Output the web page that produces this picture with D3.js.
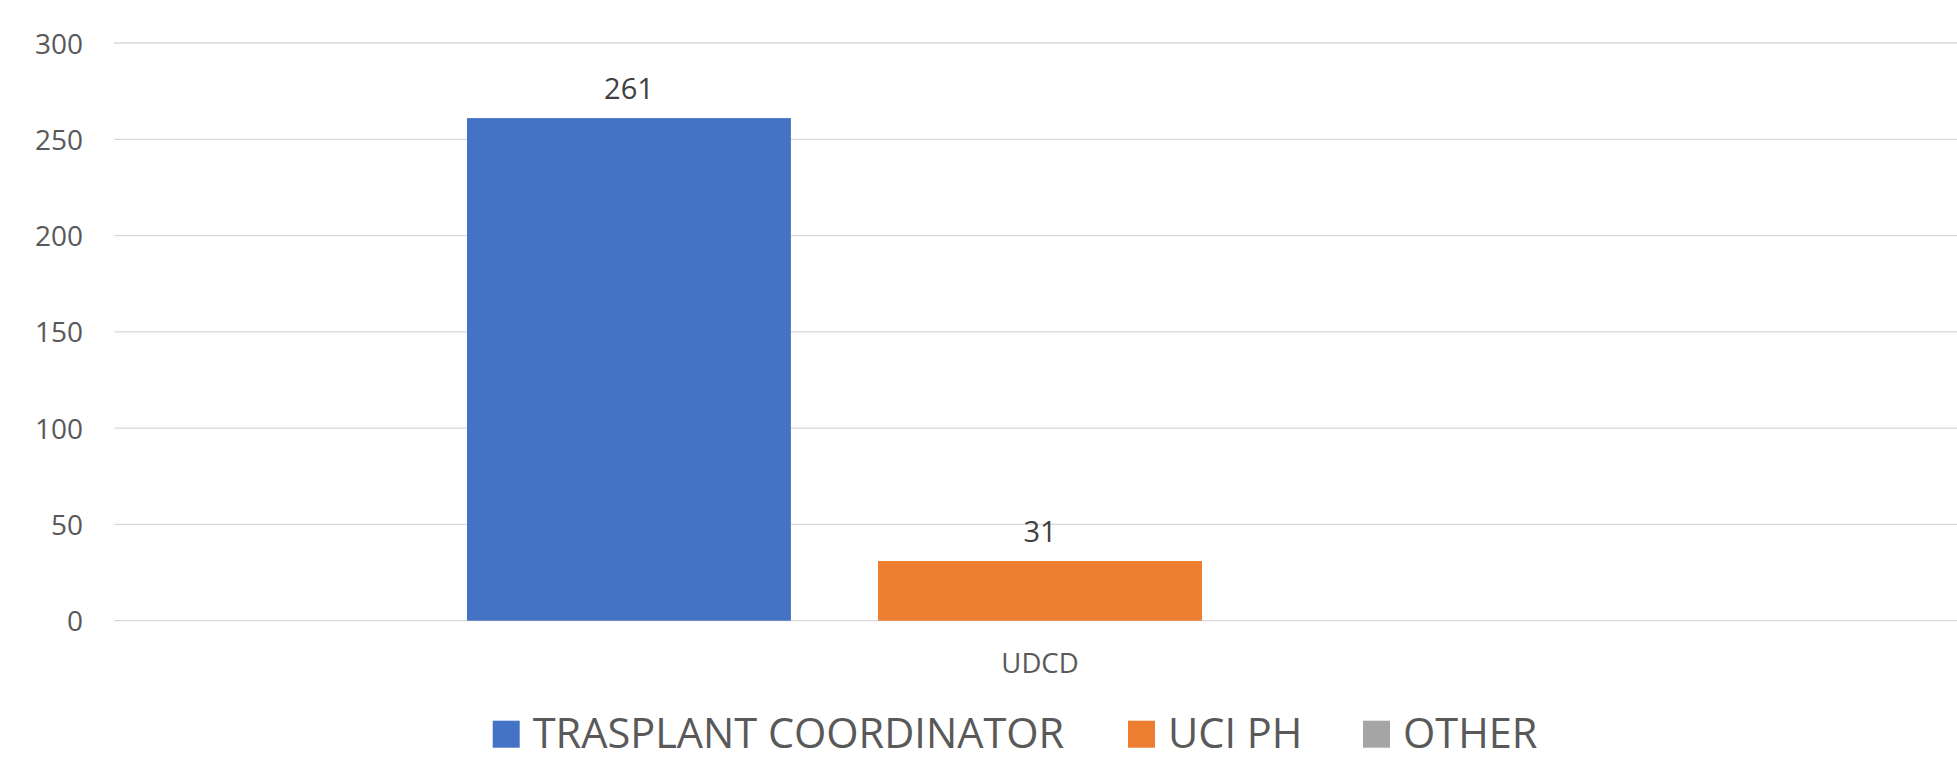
<!DOCTYPE html>
<html>
<head>
<meta charset="utf-8">
<script src="https://cdn.jsdelivr.net/npm/d3@7"></script>
<style>
  html, body { margin: 0; padding: 0; background: #ffffff; }
  svg { display: block; }
  text { font-family: "Open Sans", "Noto Sans", sans-serif; }
</style>
</head>
<body>
<svg id="chart" width="1957" height="774"></svg>
<script>
// ---- data ----
const categories = ["UDCD"];
const seriesNames = ["TRASPLANT COORDINATOR", "UCI PH", "OTHER"];
const seriesColors = ["#4472C4", "#ED7D31", "#A5A5A5"];
const seriesValues = [
  [261],   // TRASPLANT COORDINATOR
  [31],    // UCI PH
  [null]   // OTHER (no value shown)
];
const yTicks = [0, 50, 100, 150, 200, 250, 300];

// ---- layout ----
const W = 1957, H = 774;
const plotLeft = 114, plotRight = 1966, plotTop = 43, plotBottom = 620.7;

const svg = d3.select("#chart");

const y = d3.scaleLinear().domain([0, 300]).range([plotBottom, plotTop]);
const x0 = d3.scaleBand().domain(categories).range([plotLeft, plotRight])
  .paddingInner(0).paddingOuter(0.308);
const x1 = d3.scaleBand().domain(seriesNames).range([0, x0.bandwidth()])
  .paddingInner(0.212).paddingOuter(0);

// gridlines
const grid = svg.append("g").attr("class", "grid");
grid.selectAll("line").data(yTicks).join("line")
  .attr("x1", plotLeft).attr("x2", Math.min(plotRight, W))
  .attr("y1", d => y(d)).attr("y2", d => y(d))
  .attr("stroke", "#d9d9d9").attr("stroke-width", 1.3);

// y axis labels via d3 axis
const yAxis = d3.axisLeft(y).tickValues(yTicks).tickSize(0).tickPadding(0);
const yg = svg.append("g").attr("transform", `translate(83,0)`).call(yAxis);
yg.select(".domain").remove();
yg.selectAll("text")
  .attr("fill", "#595959")
  .style("font-size", "28px")
  .attr("dy", "0.36em");

// x axis labels
const xAxis = d3.axisBottom(x0).tickSize(0).tickPadding(0);
const xg = svg.append("g").attr("transform", `translate(0,672.5)`).call(xAxis);
xg.select(".domain").remove();
xg.selectAll("text")
  .attr("fill", "#595959")
  .style("font-size", "27.5px")
  .attr("dy", "0");

// bars
const groups = svg.append("g").selectAll("g").data(categories).join("g")
  .attr("transform", d => `translate(${x0(d)},0)`);

categories.forEach((cat, ci) => {
  const g = groups.filter(d => d === cat);
  const data = seriesNames.map((s, si) => ({ s, si, v: seriesValues[si][ci] }))
    .filter(d => d.v !== null && d.v !== undefined);
  g.selectAll("rect").data(data).join("rect")
    .attr("x", d => x1(d.s))
    .attr("width", x1.bandwidth())
    .attr("y", d => y(d.v))
    .attr("height", d => y(0) - y(d.v))
    .attr("fill", d => seriesColors[d.si]);
  g.selectAll("text.val").data(data).join("text")
    .attr("class", "val")
    .attr("x", d => x1(d.s) + x1.bandwidth() / 2)
    .attr("y", d => y(d.v) - 19)
    .attr("text-anchor", "middle")
    .attr("fill", "#404040")
    .style("font-size", "29px")
    .text(d => d.v);
});

// legend
const legend = svg.append("g").attr("class", "legend");
const legendX = [492.7, 1128, 1363];
const baseline = 747.7;
seriesNames.forEach((s, i) => {
  const lg = legend.append("g").attr("transform", `translate(${legendX[i]},0)`);
  lg.append("rect")
    .attr("x", 0).attr("y", baseline - 27).attr("width", 27).attr("height", 27)
    .attr("fill", seriesColors[i]);
  lg.append("text")
    .attr("x", 40).attr("y", baseline)
    .attr("fill", "#595959")
    .style("font-size", "41.5px")
    .text(s);
});
</script>
</body>
</html>
